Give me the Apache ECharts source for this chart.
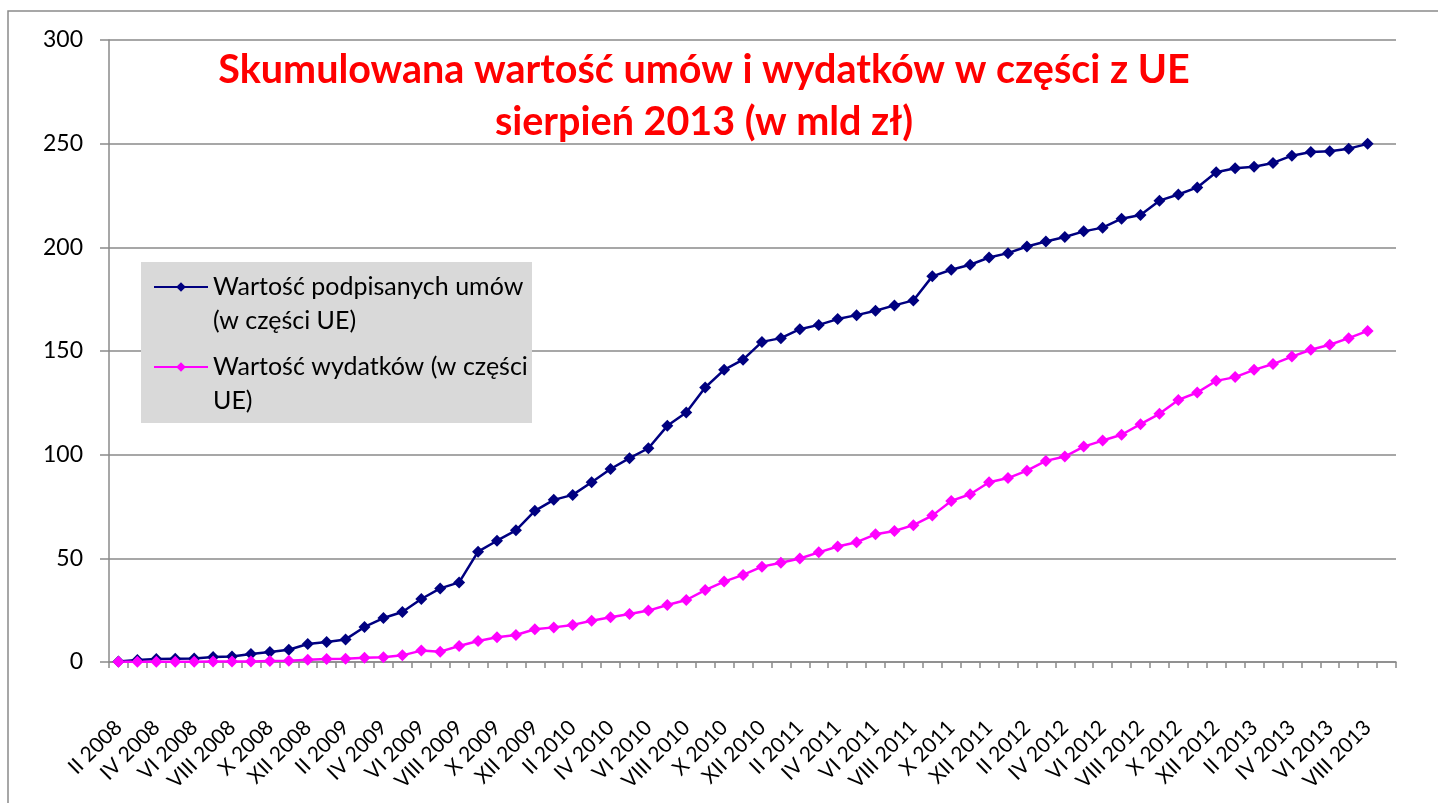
<!DOCTYPE html>
<html>
<head>
<meta charset="utf-8">
<title>Skumulowana wartość umów i wydatków</title>
<script src="https://cdn.jsdelivr.net/npm/echarts@6/dist/echarts.min.js"></script>
<style>
  html, body { margin: 0; padding: 0; background: #fff; }
  #chart { width: 1438px; height: 803px; }
</style>
</head>
<body>
<div id="chart"></div>
<script>
// months II 2008 .. IX 2013 (last one has no data)
const months = [
  'II 2008', 'III 2008', 'IV 2008', 'V 2008', 'VI 2008', 'VII 2008', 'VIII 2008', 'IX 2008', 'X 2008', 'XI 2008', 'XII 2008',
  'I 2009', 'II 2009', 'III 2009', 'IV 2009', 'V 2009', 'VI 2009', 'VII 2009', 'VIII 2009', 'IX 2009', 'X 2009', 'XI 2009', 'XII 2009',
  'I 2010', 'II 2010', 'III 2010', 'IV 2010', 'V 2010', 'VI 2010', 'VII 2010', 'VIII 2010', 'IX 2010', 'X 2010', 'XI 2010', 'XII 2010',
  'I 2011', 'II 2011', 'III 2011', 'IV 2011', 'V 2011', 'VI 2011', 'VII 2011', 'VIII 2011', 'IX 2011', 'X 2011', 'XI 2011', 'XII 2011',
  'I 2012', 'II 2012', 'III 2012', 'IV 2012', 'V 2012', 'VI 2012', 'VII 2012', 'VIII 2012', 'IX 2012', 'X 2012', 'XI 2012', 'XII 2012',
  'I 2013', 'II 2013', 'III 2013', 'IV 2013', 'V 2013', 'VI 2013', 'VII 2013', 'VIII 2013', 'IX 2013'
]

// mld zł, cumulative
const umowy = [
  0.2, 1.0, 1.4, 1.6, 1.7, 2.4, 2.7, 3.9, 4.8, 5.9, 8.7,
  9.7, 10.9, 16.9, 21.2, 24.1, 30.4, 35.5, 38.4, 53.2, 58.5, 63.5, 72.9,
  78.2, 80.6, 86.7, 93.1, 98.3, 103.1, 113.9, 120.3, 132.4, 140.9, 145.8, 154.4,
  156.2, 160.5, 162.6, 165.4, 167.3, 169.4, 172.0, 174.4, 186.0, 189.2, 191.6, 195.1,
  197.2, 200.4, 202.8, 205.0, 207.7, 209.5, 213.8, 215.6, 222.5, 225.5, 228.9, 236.2,
  238.1, 238.9, 240.7, 244.2, 246.0, 246.3, 247.6, 249.9
]

const wydatki = [
  0.1, 0.1, 0.1, 0.1, 0.1, 0.2, 0.2, 0.3, 0.5, 0.6, 1.1,
  1.4, 1.6, 2.1, 2.3, 3.2, 5.5, 5.0, 7.7, 10.1, 11.9, 13.0, 15.8,
  16.7, 17.9, 19.9, 21.6, 23.2, 24.8, 27.5, 29.9, 34.7, 38.8, 42.0, 46.0,
  47.9, 49.9, 52.9, 55.7, 57.8, 61.6, 63.2, 66.0, 70.6, 77.7, 80.9, 86.7,
  88.7, 92.3, 97.0, 99.1, 103.9, 106.8, 109.6, 114.7, 119.7, 126.4, 130.0, 135.6,
  137.4, 140.9, 143.7, 147.3, 150.6, 153.0, 156.2, 159.7
]

const seriesNames = ['Wartość podpisanych umów\n(w części UE)', 'Wartość wydatków (w części\nUE)']
const yTicks = { min: 0, max: 300, step: 50 }

const FONT = 'Lato'
const axisGrey = '#8a8a8a'

const chart = echarts.init(document.getElementById('chart'))

const option = {
  backgroundColor: '#fff',
  animation: false,
  title: {
    text: 'Skumulowana wartość umów i wydatków w części z UE\nsierpień 2013 (w mld zł)',
    left: 699,
    top: 39,
    textAlign: 'center',
    textStyle: {
      color: '#ff0000',
      fontFamily: FONT,
      fontWeight: 'bold',
      fontSize: 39.5,
      lineHeight: 52
    }
  },
  graphic: [
    {
      type: 'rect',
      z: -10,
      silent: true,
      shape: { x: 8, y: 11, width: 1500, height: 900 },
      style: { fill: 'none', stroke: axisGrey, lineWidth: 1.5 }
    },
    {
      type: 'rect',
      z: 1,
      silent: true,
      shape: { x: 141, y: 262, width: 391, height: 161 },
      style: { fill: '#d9d9d9' }
    }
  ],
  legend: {
    orient: 'vertical',
    left: 153,
    top: 236,
    padding: 0,
    itemGap: -22,
    itemWidth: 54,
    itemHeight: 12,
    z: 4,
    data: seriesNames,
    // empty first line keeps the icon level with the first text line
    formatter: (name) => '\n' + name,
    textStyle: {
      fontFamily: FONT,
      fontSize: 25,
      color: '#000',
      lineHeight: 34
    }
  },
  grid: { left: 109, right: 42, top: 40, bottom: 141, containLabel: false, outerBoundsMode: 'none' },
  xAxis: {
    type: 'category',
    data: months,
    boundaryGap: true,
    axisLine: { lineStyle: { color: axisGrey, width: 1.5 } },
    axisTick: { show: true, interval: 0, length: 6, lineStyle: { color: axisGrey, width: 1.5 } },
    axisLabel: {
      interval: 1,
      rotate: 45,
      margin: 62,
      color: '#000',
      fontFamily: FONT,
      fontSize: 21
    },
    splitLine: { show: false }
  },
  yAxis: {
    type: 'value',
    min: yTicks.min,
    max: yTicks.max,
    interval: yTicks.step,
    axisLine: { show: true, lineStyle: { color: axisGrey, width: 1.5 } },
    axisTick: { show: true, length: 9, lineStyle: { color: axisGrey, width: 1.5 } },
    axisLabel: { margin: 26, color: '#000', fontFamily: FONT, fontSize: 23 },
    splitLine: { lineStyle: { color: axisGrey, width: 1.5 } }
  },
  series: [
    {
      name: seriesNames[0],
      type: 'line',
      data: umowy,
      symbol: 'diamond',
      symbolSize: 12,
      showAllSymbol: true,
      color: '#000080',
      lineStyle: { width: 2.5, color: '#000080' },
      itemStyle: { color: '#000080' }
    },
    {
      name: seriesNames[1],
      type: 'line',
      data: wydatki,
      symbol: 'diamond',
      symbolSize: 12,
      showAllSymbol: true,
      color: '#ff00ff',
      lineStyle: { width: 2.5, color: '#ff00ff' },
      itemStyle: { color: '#ff00ff' }
    }
  ]
}

chart.setOption(option)
</script>
</body>
</html>
